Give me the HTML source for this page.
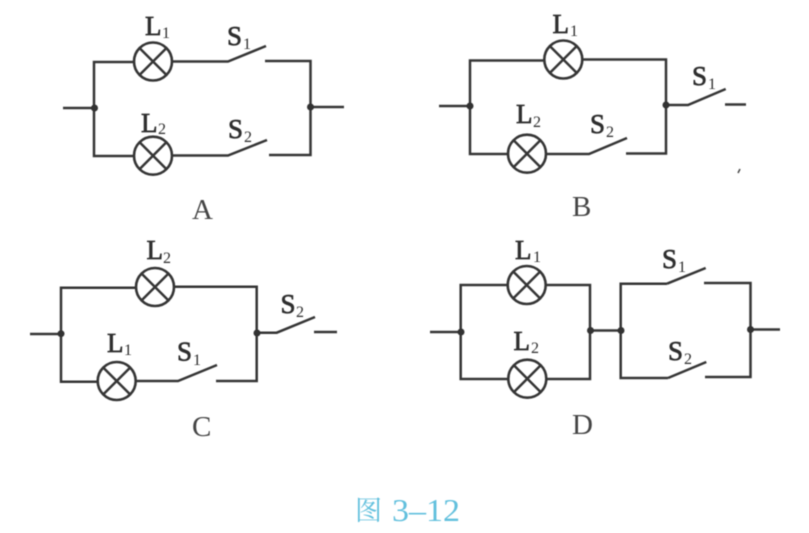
<!DOCTYPE html>
<html>
<head>
<meta charset="utf-8">
<style>
html,body{margin:0;padding:0;background:#fff;}
svg{display:block;}
.w{fill:none;stroke:#363636;stroke-width:2.5;stroke-linejoin:miter;}
.lamp{fill:none;stroke:#363636;stroke-width:2.6;}
.dot{fill:#303030;}
.t{font-family:"Liberation Serif",serif;fill:#2e2e2e;}
.m{font-size:27px;}
.b{stroke:#2e2e2e;stroke-width:.7px;}
.s{font-size:16px;}
.c{font-size:29px;fill:#444;}
.cap{font-family:"Liberation Serif","Noto Serif CJK SC",serif;fill:#62c0dd;}
</style>
</head>
<body>
<svg width="809" height="533" viewBox="0 0 809 533" xmlns="http://www.w3.org/2000/svg">
<defs>
<g id="lamp">
<circle r="19" class="lamp"/>
<path class="w" d="M-13.4-13.4L13.4 13.4M-13.4 13.4L13.4-13.4"/>
</g>
<filter id="soft"><feGaussianBlur stdDeviation="0.4"/></filter>
</defs>
<g filter="url(#soft)">

<!-- A -->
<path class="w" d="M63 108H94M134 62H94V156H134M172 61.5H228L266 46M265 61H310.5V155H269M172 155.5H228L267 140M311 107H344"/>
<use href="#lamp" x="153" y="61.5"/>
<use href="#lamp" x="153" y="155.7"/>
<circle class="dot" cx="94.500" cy="108" r="3.500"/>
<circle class="dot" cx="310.500" cy="107" r="3.500"/>
<text class="t m b" x="145" y="35">L</text><text class="t s" x="162" y="38">1</text>
<text class="t m b" x="227" y="45">S</text><text class="t s" x="243" y="49">1</text>
<text class="t m b" x="141" y="132">L</text><text class="t s" x="158" y="134">2</text>
<text class="t m b" x="228" y="138">S</text><text class="t s" x="244" y="142">2</text>
<text class="t c" x="192" y="219">A</text>

<!-- B -->
<path class="w" d="M439 106H470M544 60.500H470V154H508M582 59.500H666V153.500H626M547 154H589L627 138M666 105H688L725.700 89M725 104.500H746"/>
<use href="#lamp" x="563.300" y="59.500"/>
<use href="#lamp" x="527" y="153.700"/>
<circle class="dot" cx="470" cy="106" r="3.500"/>
<circle class="dot" cx="666" cy="105" r="3.500"/>
<text class="t m b" x="552.500" y="33">L</text><text class="t s" x="570" y="36">1</text>
<text class="t m b" x="516" y="123">L</text><text class="t s" x="533" y="127">2</text>
<text class="t m b" x="692" y="85">S</text><text class="t s" x="708" y="89">1</text>
<text class="t m b" x="590" y="133">S</text><text class="t s" x="606" y="137">2</text>
<text class="t c" x="572" y="216">B</text>
<path d="M738 173L740 169" stroke="#444" stroke-width="1.500"/>

<!-- C -->
<path class="w" d="M30 334H61M136 287.700H61V381.700H98M174 286.700H256.700V381H216M135 381H178L217 365M257 332.700H276.700L315 317M314 332H337"/>
<use href="#lamp" x="155" y="287"/>
<use href="#lamp" x="116.700" y="381"/>
<circle class="dot" cx="61" cy="333.700" r="3.500"/>
<circle class="dot" cx="257" cy="333" r="3.500"/>
<text class="t m b" x="146.500" y="259">L</text><text class="t s" x="163" y="263">2</text>
<text class="t m b" x="107" y="352">L</text><text class="t s" x="124" y="355">1</text>
<text class="t m b" x="280.500" y="313">S</text><text class="t s" x="296" y="317">2</text>
<text class="t m b" x="177" y="360.500">S</text><text class="t s" x="193" y="365">1</text>
<text class="t c" x="192" y="436">C</text>

<!-- D -->
<path class="w" d="M430 332H461M508 285H460.700V379H508M546 285H590V379H546M590.500 330.500H621M667 283.700H620.700V378H668M667 283.700L705.700 268M704 283H750.500V377H705M668 378L706.300 362M750.500 329.500H780"/>
<use href="#lamp" x="526.700" y="285"/>
<use href="#lamp" x="527.300" y="378.700"/>
<circle class="dot" cx="461" cy="332" r="3.500"/>
<circle class="dot" cx="590.500" cy="330.500" r="3.500"/>
<circle class="dot" cx="621" cy="330.500" r="3.500"/>
<circle class="dot" cx="750.500" cy="329.500" r="3.500"/>
<text class="t m b" x="515" y="259">L</text><text class="t s" x="533" y="262">1</text>
<text class="t m b" x="513.500" y="350">L</text><text class="t s" x="531" y="353">2</text>
<text class="t m b" x="662" y="268">S</text><text class="t s" x="678" y="272">1</text>
<text class="t m b" x="668" y="360">S</text><text class="t s" x="684" y="364">2</text>
<text class="t c" x="572" y="434">D</text>

<!-- caption -->
<text class="cap" x="355" y="520" font-size="27">图</text>
<text class="cap" x="392" y="521" font-size="32" textLength="68" lengthAdjust="spacingAndGlyphs">3–12</text>
</g>
</svg>
</body>
</html>
